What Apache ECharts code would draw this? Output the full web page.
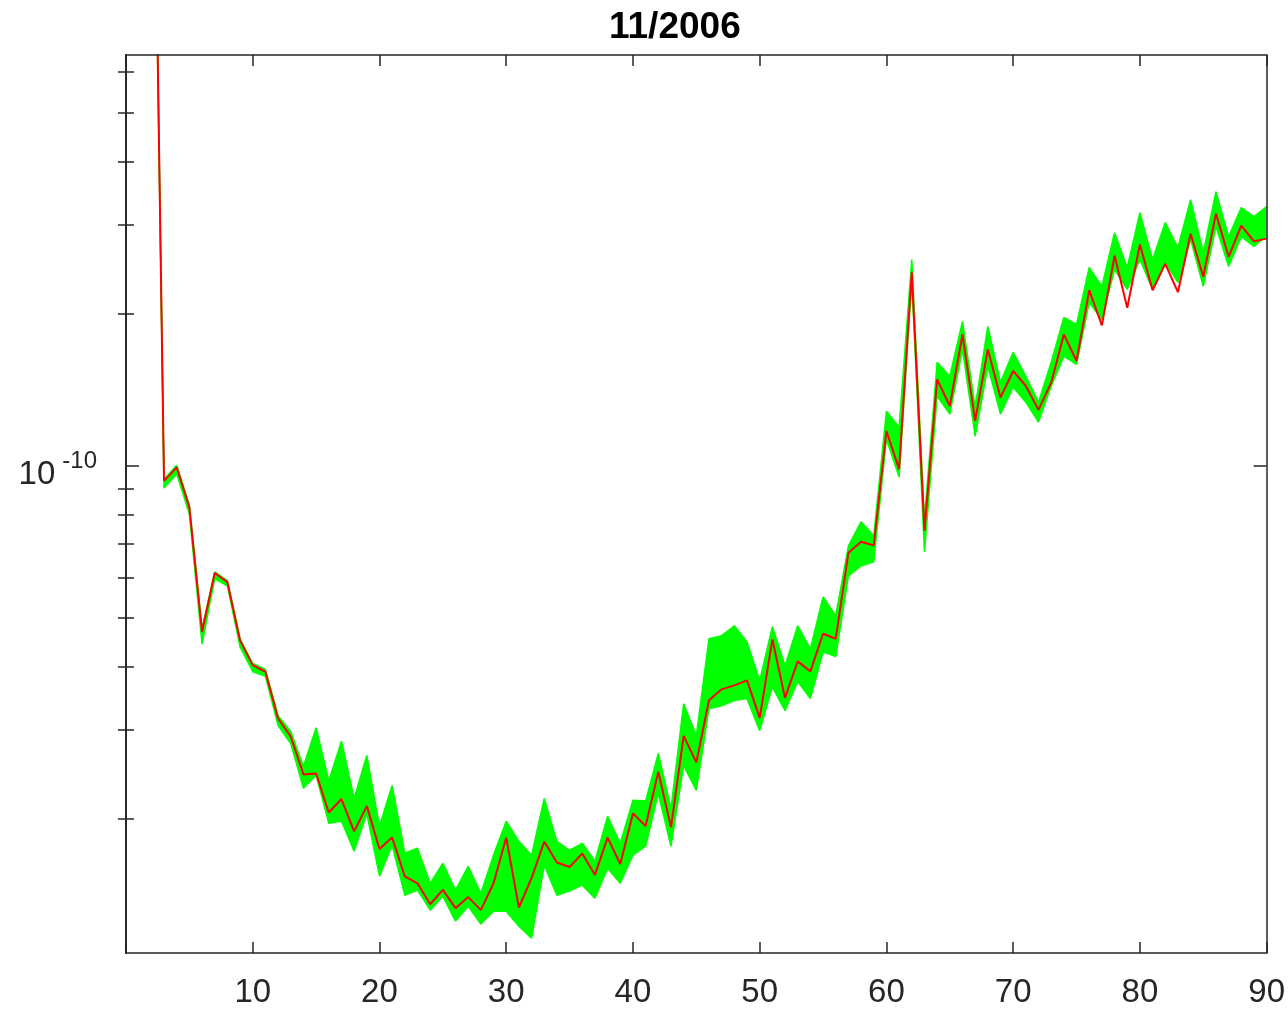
<!DOCTYPE html>
<html><head><meta charset="utf-8">
<script src="https://cdn.jsdelivr.net/npm/echarts@6/dist/echarts.min.js"></script>
<style>html,body{margin:0;padding:0;background:#fff}#c{width:1288px;height:1009px}</style>
</head><body><div id="c"></div>
<script>
// values in units of 1e-11
const xValues = [2,3,4,5,6,7,8,9,10,11,12,13,14,15,16,17,18,19,20,21,22,23,24,25,26,27,28,29,30,31,32,33,34,35,36,37,38,39,40,41,42,43,44,45,46,47,48,49,50,51,52,53,54,55,56,57,58,59,60,61,62,63,64,65,66,67,68,69,70,71,72,73,74,75,76,77,78,79,80,81,82,83,84,85,86,87,88,89,90];
const redValues = [451,9.33,9.92,8.27,4.69,6.13,5.88,4.51,4.03,3.91,3.16,2.91,2.45,2.46,2.06,2.19,1.89,2.12,1.745,1.837,1.539,1.492,1.356,1.448,1.332,1.401,1.320,1.492,1.837,1.336,1.527,1.804,1.640,1.607,1.708,1.550,1.837,1.629,2.051,1.936,2.480,1.925,2.92,2.587,3.433,3.609,3.675,3.760,3.170,4.53,3.471,4.10,3.917,4.65,4.545,6.72,7.07,6.95,11.71,9.84,24.13,7.43,14.81,13.12,18.18,12.26,16.98,13.63,15.39,14.37,12.89,14.59,18.18,16.10,22.23,18.94,26.03,20.53,27.37,22.23,25.07,22.03,28.76,23.63,31.51,25.88,29.83,27.78,28.12];
const greenUpper = [460,9.40,10.02,8.36,4.76,6.16,5.92,4.545,4.06,3.95,3.20,2.98,2.54,3.03,2.38,2.85,2.196,2.67,1.934,2.33,1.711,1.750,1.492,1.634,1.446,1.612,1.426,1.696,1.98,1.806,1.696,2.196,1.806,1.734,1.790,1.649,2.024,1.790,2.177,2.17,2.694,2.099,3.38,2.924,4.545,4.61,4.82,4.48,3.755,4.80,4.02,4.82,4.34,5.50,5.05,6.94,7.74,7.26,12.81,11.91,25.57,7.84,16.01,15.02,19.29,13.05,18.86,14.61,16.75,15.02,13.35,16.01,19.64,19.03,24.65,22.62,28.89,24.65,31.65,25.57,30.25,27.0,33.58,26.4,34.83,28.38,32.38,31.09,32.52];
const greenLower = [440,9.03,9.62,8.02,4.44,5.97,5.78,4.38,3.91,3.83,3.06,2.82,2.30,2.44,1.96,1.98,1.727,2.05,1.541,1.774,1.413,1.446,1.320,1.406,1.256,1.344,1.239,1.314,1.314,1.227,1.162,1.619,1.413,1.440,1.479,1.394,1.597,1.492,1.696,1.766,2.246,1.766,2.55,2.277,3.305,3.35,3.43,3.46,2.99,3.65,3.275,3.74,3.46,4.28,4.19,6.05,6.33,6.45,11.28,9.49,23.34,6.75,13.72,12.64,16.98,11.43,15.72,12.64,14.29,13.35,12.19,14.35,16.45,15.86,21.02,19.46,24.43,22.31,25.57,22.31,25.22,23.03,28.0,22.62,29.7,24.76,28.38,27.13,28.5];
const yMinorTicks = [2,3,4,5,6,7,8,9,20,30,40,50,60];
const yMajorTicks = [10];
const yRange = [1.086, 64.9];
const xTicks = [0, 90, 10];
const titleText = '11/2006';
const unit = 1e-11;

const U = v => v * unit;
const pair = arr => xValues.map((x, i) => [x, U(arr[i])]);

const axisColor = '#262626';
const FONT = 'Liberation Sans';
const GREEN = '#00ff00';

function xAx(pos, labels) {
  return {
    type: 'value', position: pos, min: xTicks[0], max: xTicks[1], interval: xTicks[2], z: 10,
    axisLine: { show: true, onZero: false, lineStyle: { color: axisColor, width: 1.5 } },
    axisTick: { show: true, inside: true, length: 11, lineStyle: { color: axisColor, width: 1.5 } },
    axisLabel: { show: labels, fontFamily: FONT, fontSize: 33, color: axisColor, margin: 23,
      formatter: v => (v === 0 ? '' : String(v)) },
    splitLine: { show: false }
  };
}
function yAx(pos, ticks, len, labels) {
  return {
    type: 'log', logBase: 10, position: pos, min: U(yRange[0]), max: U(yRange[1]), z: 10,
    axisLine: { show: true, lineStyle: { color: axisColor, width: 1.5 } },
    axisTick: { show: true, inside: true, length: len, customValues: ticks.map(U),
      lineStyle: { color: axisColor, width: 1.5 } },
    axisLabel: { show: labels, customValues: yMajorTicks.map(U), margin: 29,
      formatter: () => '{b|10}{s|-10}',
      rich: {
        b: { fontFamily: FONT, fontSize: 33, color: axisColor, padding: [18, 0, 0, 0] },
        s: { fontFamily: FONT, fontSize: 24, color: axisColor, padding: [0, 0, 8, 7] }
      } },
    splitLine: { show: false }, minorTick: { show: false }
  };
}

const chart = echarts.init(document.getElementById('c'), null, { renderer: 'canvas' });
chart.setOption({
  animation: false,
  backgroundColor: '#fff',
  title: { text: titleText, left: 609, top: 9, padding: 0,
    textStyle: { fontFamily: FONT, fontSize: 37, fontWeight: 'bold', color: '#000' } },
  grid: { left: 126, right: 21, top: 55, bottom: 54 },
  xAxis: [xAx('bottom', true), xAx('top', false)],
  yAxis: [
    yAx('left', yMinorTicks, 8, true),
    yAx('right', yMinorTicks, 8, false),
    yAx('left', yMajorTicks, 13, false),
    yAx('right', yMajorTicks, 13, false)
  ],
  series: [
    { type: 'custom', name: 'band', data: [[xValues[0], U(greenLower[0])]], z: 2, silent: true,
      renderItem: (params, api) => {
        const up = xValues.map((x, i) => api.coord([x, U(greenUpper[i])]));
        const lo = xValues.map((x, i) => api.coord([x, U(greenLower[i])])).reverse();
        const cs = params.coordSys;
        return { type: 'polygon', shape: { points: up.concat(lo) },
          style: { fill: GREEN, stroke: null },
          clipPath: { type: 'rect', shape: { x: cs.x, y: cs.y, width: cs.width, height: cs.height } } };
      } },
    { type: 'line', name: 'upper', data: pair(greenUpper), symbol: 'none',
      lineStyle: { color: GREEN, width: 1.5 }, z: 2 },
    { type: 'line', name: 'lower', data: pair(greenLower), symbol: 'none',
      lineStyle: { color: GREEN, width: 1.5 }, z: 2 },
    { type: 'line', name: 'red', data: pair(redValues), symbol: 'none',
      lineStyle: { color: '#ff0000', width: 2 }, z: 3 }
  ]
});
</script>
</body></html>
